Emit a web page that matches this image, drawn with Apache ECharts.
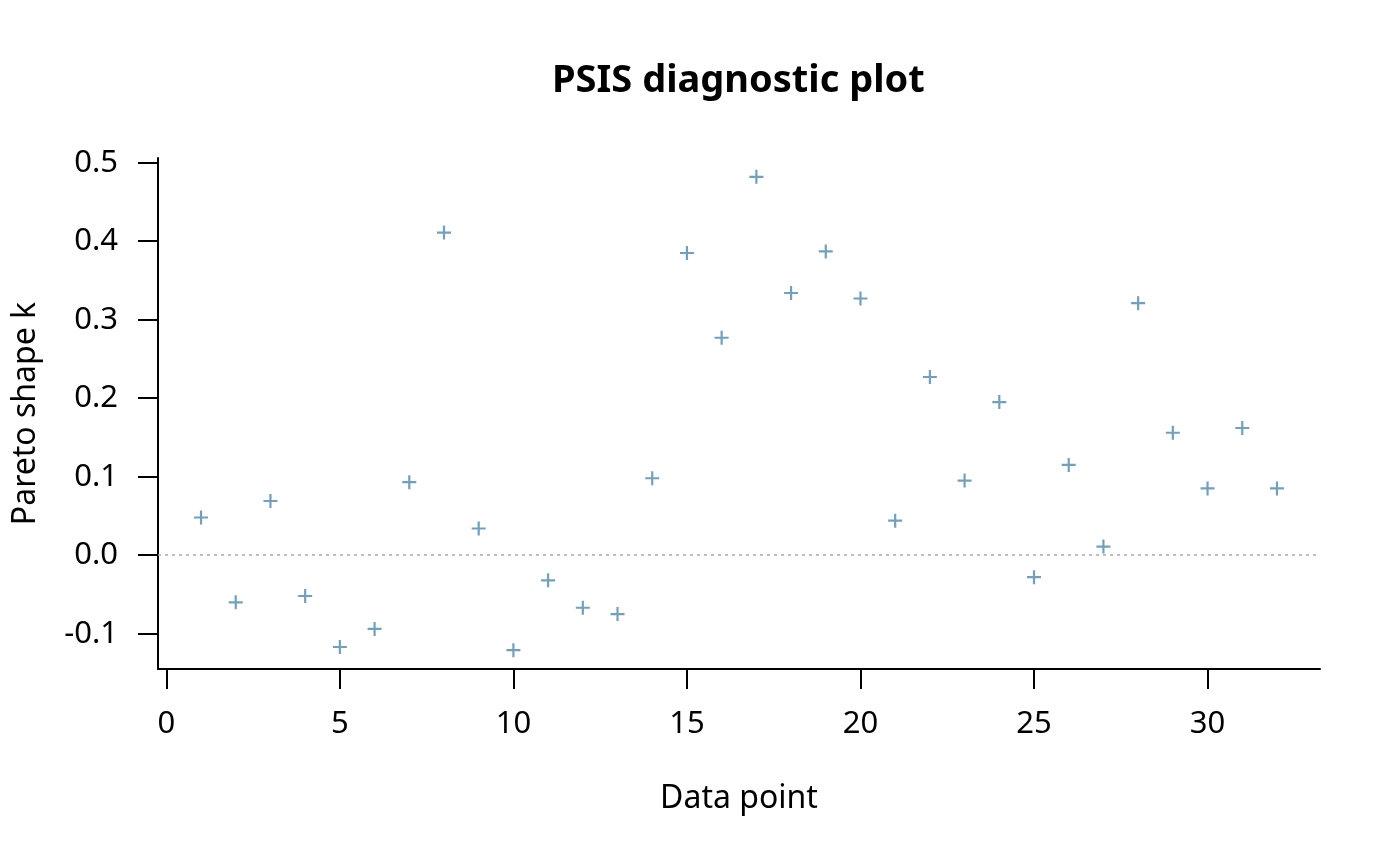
<!DOCTYPE html>
<html>
<head>
<meta charset="utf-8">
<script src="https://cdn.jsdelivr.net/npm/echarts@6/dist/echarts.min.js"></script>
<style>
  html, body { margin: 0; padding: 0; background: #fff; }
  #chart { width: 1400px; height: 866px; }
</style>
</head>
<body>
<div id="chart"></div>
<script>
// Pareto shape k per data point
var dataPoints = [1, 2, 3, 4, 5, 6, 7, 8, 9, 10, 11, 12, 13, 14, 15, 16,
                  17, 18, 19, 20, 21, 22, 23, 24, 25, 26, 27, 28, 29, 30, 31, 32];
var paretoK = [0.048, -0.060, 0.069, -0.052, -0.117, -0.094, 0.093, 0.411,
               0.034, -0.121, -0.032, -0.067, -0.075, 0.098, 0.385, 0.277,
               0.482, 0.334, 0.387, 0.327, 0.044, 0.227, 0.095, 0.195,
               -0.028, 0.115, 0.011, 0.321, 0.156, 0.085, 0.162, 0.085];
var xTicks = [0, 5, 10, 15, 20, 25, 30];
var yTicks = [-0.1, 0, 0.1, 0.2, 0.3, 0.4, 0.5];

var seriesData = [];
for (var i = 0; i < dataPoints.length; i++) {
    seriesData.push([dataPoints[i], paretoK[i]]);
}

var font = 'Noto Sans';
var plus = 'path://M5.9,0H8.1V5.9H14V8.1H8.1V14H5.9V8.1H0V5.9H5.9Z';

var myChart = echarts.init(document.getElementById('chart'));
myChart.setOption({
    backgroundColor: '#ffffff',
    animation: false,
    title: {
        text: 'PSIS diagnostic plot',
        left: 547,
        top: 57,
        textStyle: { fontFamily: font, fontSize: 38, fontWeight: 'bold', color: '#000' }
    },
    grid: { left: 158, right: 80, top: 158, bottom: 197, containLabel: false },
    xAxis: {
        type: 'value',
        min: -0.24,
        max: 33.24,
        name: 'Data point',
        nameLocation: 'middle',
        nameGap: 114,
        nameTextStyle: { fontFamily: font, fontSize: 32, color: '#000' },
        axisLine: { show: true, onZero: false, lineStyle: { color: '#000', width: 2 } },
        axisTick: { show: true, length: 20, inside: false, customValues: xTicks,
                    lineStyle: { color: '#000', width: 2 } },
        axisLabel: { customValues: xTicks, margin: 40, fontFamily: font, fontSize: 31, color: '#000' },
        splitLine: { show: false }
    },
    yAxis: {
        type: 'value',
        min: -0.145,
        max: 0.506,
        name: 'Pareto shape k',
        nameLocation: 'middle',
        nameGap: 116,
        nameTextStyle: { fontFamily: font, fontSize: 32, color: '#000' },
        axisLine: { show: true, onZero: false, lineStyle: { color: '#000', width: 2 } },
        axisTick: { show: true, length: 20, inside: false, customValues: yTicks,
                    lineStyle: { color: '#000', width: 2 } },
        axisLabel: {
            customValues: yTicks, margin: 40, fontFamily: font, fontSize: 31, color: '#000',
            formatter: function (v) { return v.toFixed(1); }
        },
        splitLine: { show: false }
    },
    series: [{
        type: 'scatter',
        data: seriesData,
        symbol: plus,
        symbolSize: 14,
        itemStyle: { color: '#4f88ab' },
        markLine: {
            silent: true,
            symbol: 'none',
            label: { show: false },
            lineStyle: { color: '#aaaaaa', type: [3, 4], width: 1.5 },
            data: [{ yAxis: 0 }]
        }
    }]
});
</script>
</body>
</html>
